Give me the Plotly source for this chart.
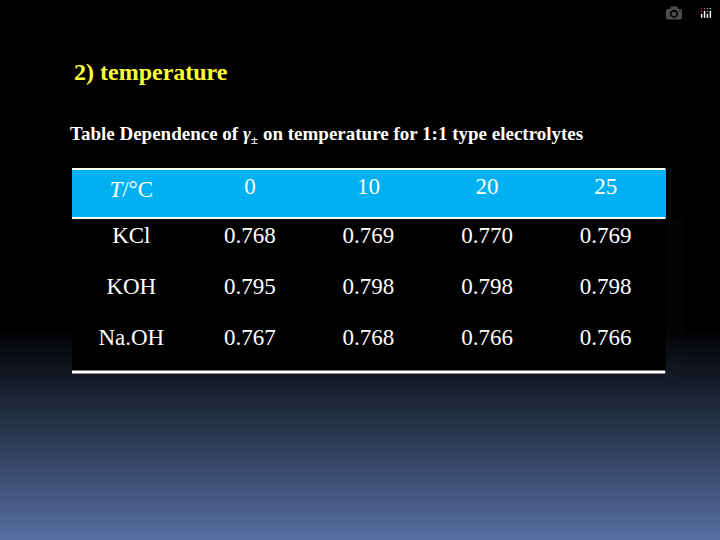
import plotly.graph_objects as go

# table data
header = ["<i>T</i>/°C", "0", "10", "20", "25"]
electrolytes = ["KCl", "KOH", "Na.OH"]
gamma_0 = ["0.768", "0.795", "0.767"]
gamma_10 = ["0.769", "0.798", "0.768"]
gamma_20 = ["0.770", "0.798", "0.766"]
gamma_25 = ["0.769", "0.798", "0.766"]

fig = go.Figure()

fig.add_trace(go.Table(
    domain=dict(x=[0.1, 0.924], y=[0.3, 0.687]),
    columnwidth=[1, 1, 1, 1, 1],
    header=dict(
        values=header,
        fill_color="#00b0f0",
        line_color="#00b0f0",
        align="center",
        height=49,
        font=dict(family="Liberation Serif", size=23, color="white"),
    ),
    cells=dict(
        values=[electrolytes, gamma_0, gamma_10, gamma_20, gamma_25],
        fill_color="black",
        line_color="black",
        align="center",
        height=51,
        font=dict(family="Liberation Serif", size=23, color="white"),
    ),
))

# background gradient: black to slate blue at the bottom
shapes = []
n = 40
top, bottom = 0.39, 0.0
c0, c1 = (0, 0, 0), (86, 112, 162)
for i in range(n):
    t = (i + 0.5) / n
    r, g, b = [int(a + (b_ - a) * t) for a, b_ in zip(c0, c1)]
    y1 = top - (top - bottom) * i / n
    y0 = top - (top - bottom) * (i + 1) / n
    shapes.append(dict(type="rect", xref="paper", yref="paper", x0=0, x1=1,
                       y0=y0 - 0.001, y1=y1 + 0.001, fillcolor=f"rgb({r},{g},{b})",
                       line=dict(width=0), layer="below"))

# white rules of the table
for yy, w in [(1 - 169 / 540, 2), (1 - 218 / 540, 2), (1 - 372 / 540, 3)]:
    shapes.append(dict(type="line", xref="paper", yref="paper", x0=0.1, x1=0.924,
                       y0=yy, y1=yy, line=dict(color="white", width=w), layer="above"))

fig.update_layout(
    width=720, height=540,
    margin=dict(l=0, r=0, t=0, b=0),
    paper_bgcolor="black",
    plot_bgcolor="black",
    shapes=shapes,
    annotations=[
        dict(text="<b>2) temperature</b>", x=72 / 720, y=1 - 72 / 540, xref="paper", yref="paper",
             xanchor="left", yanchor="middle", showarrow=False,
             font=dict(family="Liberation Serif", size=24, color="#ffff33")),
        dict(text="<b>Table Dependence of <i>γ</i><sub>±</sub> on temperature for 1:1 type electrolytes</b>",
             x=68 / 720, y=1 - 135 / 540, xref="paper", yref="paper",
             xanchor="left", yanchor="middle", showarrow=False,
             font=dict(family="Liberation Serif", size=19, color="white")),
    ],
)

fig.write_html("out.html", post_script="document.body.style.margin='0';")
